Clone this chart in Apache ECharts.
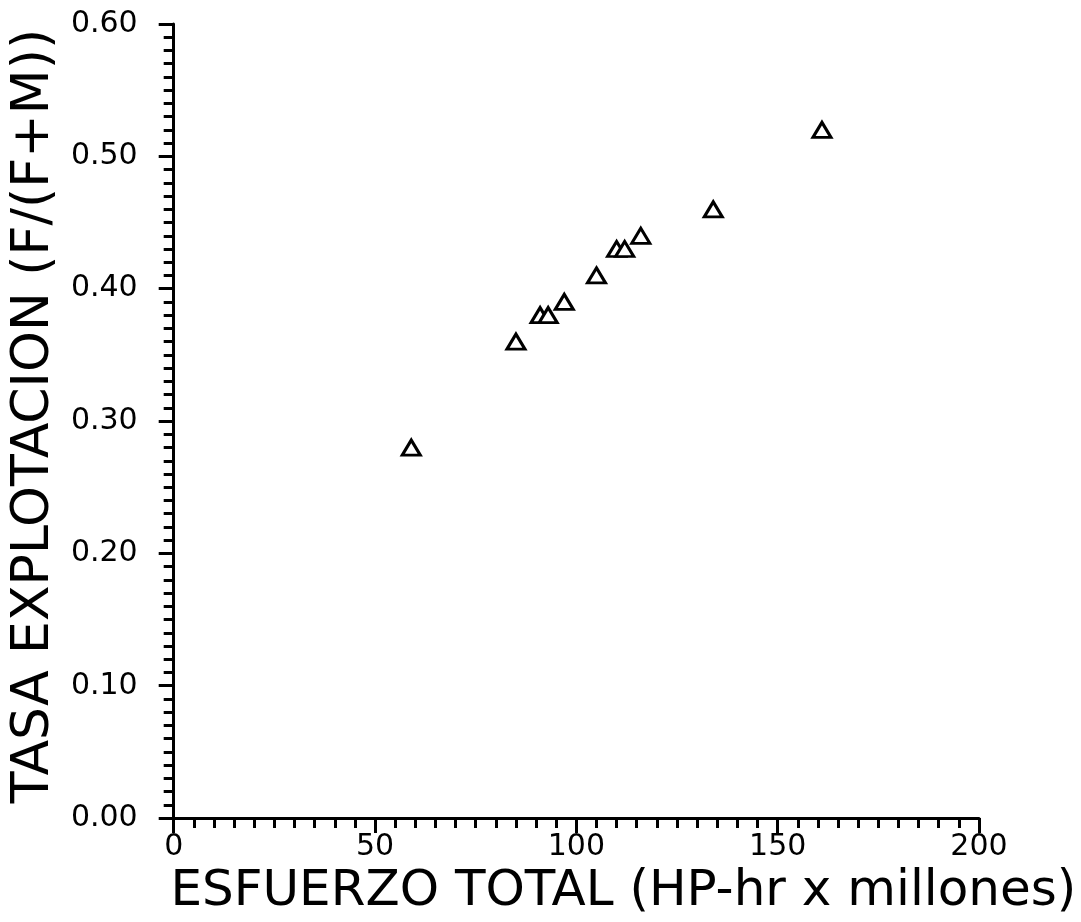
<!DOCTYPE html>
<html>
<head>
<meta charset="utf-8">
<script src="https://cdn.jsdelivr.net/npm/echarts@6/dist/echarts.min.js"></script>
<style>
html,body{margin:0;padding:0;background:#fff;}
#chart{width:1081px;height:922px;}
</style>
</head>
<body>
<div id="chart"></div>
<script>
// Data
const esfuerzo = [59, 85, 91, 93, 97, 105, 110, 112, 116, 134, 161];
const tasa = [0.28, 0.36, 0.38, 0.38, 0.39, 0.41, 0.43, 0.43, 0.44, 0.46, 0.52];
const xTitle = 'ESFUERZO TOTAL (HP-hr x millones)';
const yTitle = 'TASA EXPLOTACION (F/(F+M))';

const points = esfuerzo.map((x, i) => [x, tasa[i]]);
const FONT = 'DejaVu Sans';

const chart = echarts.init(document.getElementById('chart'), null, {renderer: 'canvas'});
const axisCommon = {
  axisLine: {show: true, onZero: false, lineStyle: {color: '#000', width: 3}},
  axisTick: {show: true, inside: false, length: 15, lineStyle: {color: '#000', width: 3}},
  minorTick: {show: true, splitNumber: 10, length: 10, lineStyle: {color: '#000', width: 3}},
  splitLine: {show: false},
  minorSplitLine: {show: false}
};
chart.setOption({
  animation: false,
  backgroundColor: '#fff',
  grid: {left: 169, right: 102, top: 24, bottom: 101, containLabel: false},
  xAxis: Object.assign({
    type: 'value', min: 0, max: 200, interval: 50,
    name: xTitle, nameLocation: 'middle', nameGap: 47,
    nameTextStyle: {fontFamily: FONT, fontSize: 50, color: '#000', padding: [0, 0, 0, 94]},
    axisLabel: {fontFamily: FONT, fontSize: 30, color: '#000', margin: 14}
  }, axisCommon),
  yAxis: Object.assign({
    type: 'value', min: 0, max: 0.6, interval: 0.1,
    name: yTitle, nameLocation: 'middle', nameGap: 94, nameRotate: 90,
    nameTextStyle: {fontFamily: FONT, fontSize: 52, color: '#000', padding: [0, 0, 0, 10]},
    axisLabel: {fontFamily: FONT, fontSize: 30, color: '#000', margin: 36,
      formatter: v => v.toFixed(2)}
  }, axisCommon),
  series: [{
    type: 'scatter',
    data: points,
    symbol: 'triangle',
    symbolSize: [18, 15],
    itemStyle: {color: '#fff', borderColor: '#000', borderWidth: 3, opacity: 1}
  }]
});
</script>
</body>
</html>
